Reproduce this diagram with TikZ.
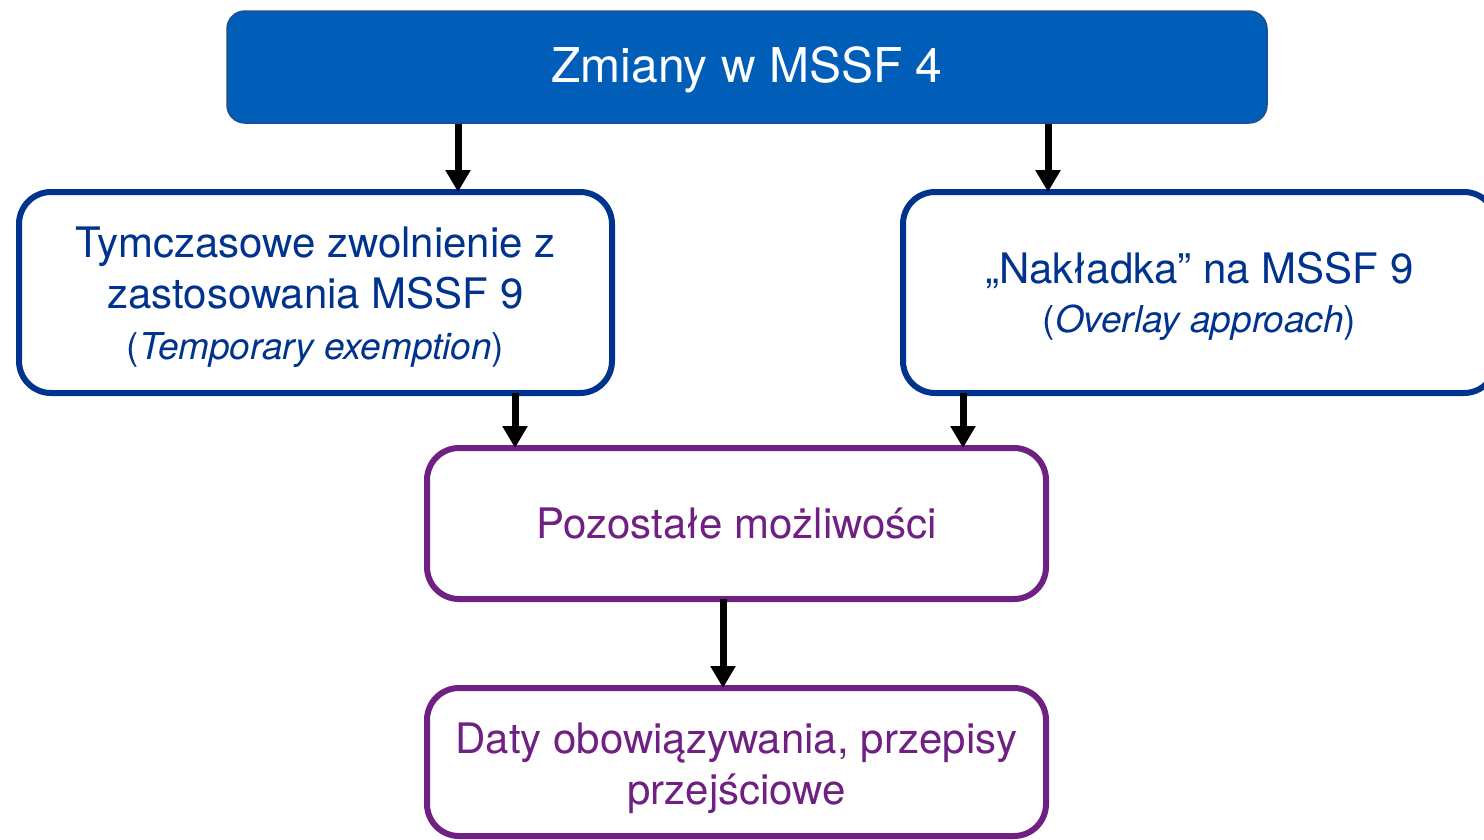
\documentclass[tikz,border=0pt]{standalone}
\usepackage{fontspec}
\setmainfont{TeX Gyre Heros}
\usetikzlibrary{arrows.meta}
\definecolor{kblue}{HTML}{005EB8}
\definecolor{kdark}{HTML}{00338D}
\definecolor{kedge}{HTML}{1F4E8C}
\definecolor{kpurple}{HTML}{702082}
\tikzset{
  titlebox/.style={draw=kedge, line width=1.5pt, fill=kblue, rounded corners=18pt,
    minimum width=1040pt, minimum height=112pt, inner sep=0pt},
  titletext/.style={text=white, inner sep=0pt, font=\fontsize{48}{56}\selectfont},
  bluebox/.style={draw=kdark, line width=6pt, fill=white, rounded corners=32pt,
    minimum width=593pt, minimum height=201pt, inner sep=0pt},
  purplebox/.style={draw=kpurple, line width=6pt, fill=white, rounded corners=32pt,
    minimum width=619pt, inner sep=0pt},
  bluetext/.style={text=kdark, align=center, inner sep=0pt, font=\fontsize{42}{51}\selectfont},
  purpletext/.style={text=kpurple, align=center, inner sep=0pt, font=\fontsize{42}{51}\selectfont},
  arr/.style={line width=7pt, -{Triangle[width=24pt,length=22pt]}},
}
\newcommand{\subline}[1]{\fontsize{37}{49}\selectfont #1}
\begin{document}
\begin{tikzpicture}[x=1pt,y=-1pt]
  \useasboundingbox (0,0) rectangle (1484,839);
  \clip (0,0) rectangle (1484,839);

  % boxes
  \node[titlebox] (top) at (747,67) {};
  \node[bluebox] (temp) at (315.5,292.5) {};
  \node[bluebox] (overlay) at (1199.5,292.5) {};
  \node[purplebox, minimum height=151pt] (other) at (736.5,523.5) {};
  \node[purplebox, minimum height=148pt] (dates) at (736.5,762) {};

  % box texts
  \node[titletext] (topT) at ([yshift=-3pt]top.center) {Zmiany w MSSF 4};
  \node[bluetext] (tempT) at ([yshift=-5pt]temp.center)
    {Tymczasowe zwolnienie z\\ zastosowania MSSF 9\\ \subline{(\textit{Temporary exemption})}};
  \node[bluetext] (overlayT) at ([yshift=-4pt]overlay.center)
    {„Nakładka” na MSSF 9\\[-2pt] \subline{(\textit{Overlay approach})}};
  \node[purpletext] (otherT) at (other.center) {Pozostałe możliwości};
  \node[purpletext] (datesT) at ([yshift=-6pt]dates.center)
    {Daty obowiązywania, przepisy\\ przejściowe};

  % arrow columns
  \coordinate (c1) at (458,0);
  \coordinate (c2) at (1048,0);
  \coordinate (c3) at (515,0);
  \coordinate (c4) at (963,0);
  \coordinate (c5) at (723,0);

  % connectors
  \draw[arr] (top.south -| c1) -- ([yshift=-3pt]temp.north -| c1);
  \draw[arr] (top.south -| c2) -- ([yshift=-3pt]overlay.north -| c2);
  \draw[arr] ([yshift=3pt]temp.south -| c3) -- ([yshift=-3pt]other.north -| c3);
  \draw[arr] ([yshift=3pt]overlay.south -| c4) -- ([yshift=-3pt]other.north -| c4);
  \draw[arr] ([yshift=3pt]other.south -| c5) -- ([yshift=-3pt]dates.north -| c5);
\end{tikzpicture}
\end{document}
